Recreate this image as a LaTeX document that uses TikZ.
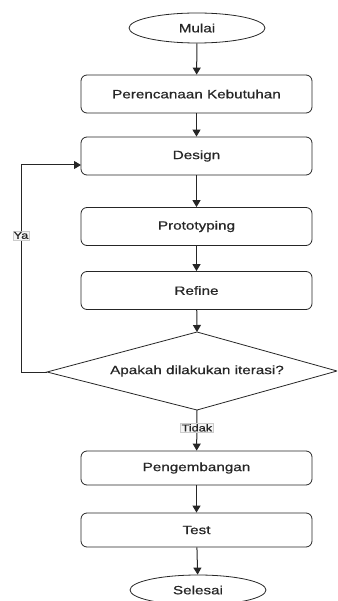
\documentclass[tikz,border=0pt]{standalone}
\usepackage{fontspec}
\setmainfont[FakeStretch=1.27,FakeBold=0.6]{Liberation Sans}
\usetikzlibrary{shapes.geometric,arrows.meta}
\begin{document}
\begin{tikzpicture}[x=1pt,y=-1pt,
  proc/.style={draw=black!85, rounded corners=6pt, minimum width=231pt, minimum height=38pt, inner sep=0pt, font=\fontsize{12}{14}\selectfont, text=black!85, line width=0.8pt},
  term/.style={draw=black!85, ellipse, minimum width=136pt, minimum height=30pt, inner sep=0pt, font=\fontsize{12}{14}\selectfont, text=black!85, line width=0.8pt},
  arr/.style={-{Triangle[length=7pt,width=8pt]}, line width=1pt, draw=black!85},
  lbl/.style={fill=gray!8, draw=gray!40, inner sep=1pt, line width=0.4pt, font=\fontsize{10}{12}\selectfont, text=black!85}]
\useasboundingbox (0,0) rectangle (337,601);
\clip (0,0) rectangle (337,601);
\node[term] (mulai) at (197,28) {Mulai};
\node[proc] (plan) at (196.5,94) {Perencanaan Kebutuhan};
\node[proc] (design) at (196.5,156) {Design};
\node[proc] (proto) at (196.5,226.5) {Prototyping};
\node[proc] (refine) at (196.5,290.5) {Refine};
\coordinate (dt) at (197,332);
\coordinate (dr) at (337,371);
\coordinate (db) at (197,410);
\coordinate (dl) at (47,372);
\draw[draw=black!85, line width=0.8pt] (dt) -- (dr) -- (db) -- (dl) -- cycle;
\node[font=\fontsize{12}{14}\selectfont, text=black!85] (q) at (197,371) {Apakah dilakukan iterasi?};
\node[proc, minimum height=34pt] (dev) at (196.5,468) {Pengembangan};
\node[proc, minimum height=34pt] (test) at (196.5,530) {Test};
\node[term] (selesai) at (198,590) {Selesai};
\coordinate (c1) at (21,372);
\coordinate (c2) at (21,165);
\coordinate (dein) at (81,165);
\draw[arr] (mulai) -- (plan);
\draw[arr] (plan) -- (design);
\draw[arr] (design) -- (proto);
\draw[arr] (proto) -- (refine);
\draw[arr] (refine) -- (dt);
\draw[arr] (db) -- node[lbl, pos=0.44] {Tidak} (dev);
\draw[arr] (dev) -- (test);
\draw[arr] (test) -- (selesai);
\draw[arr] (dl) -- (c1) -- node[lbl, pos=0.66] {Ya} (c2) -- (dein);
\end{tikzpicture}
\end{document}
